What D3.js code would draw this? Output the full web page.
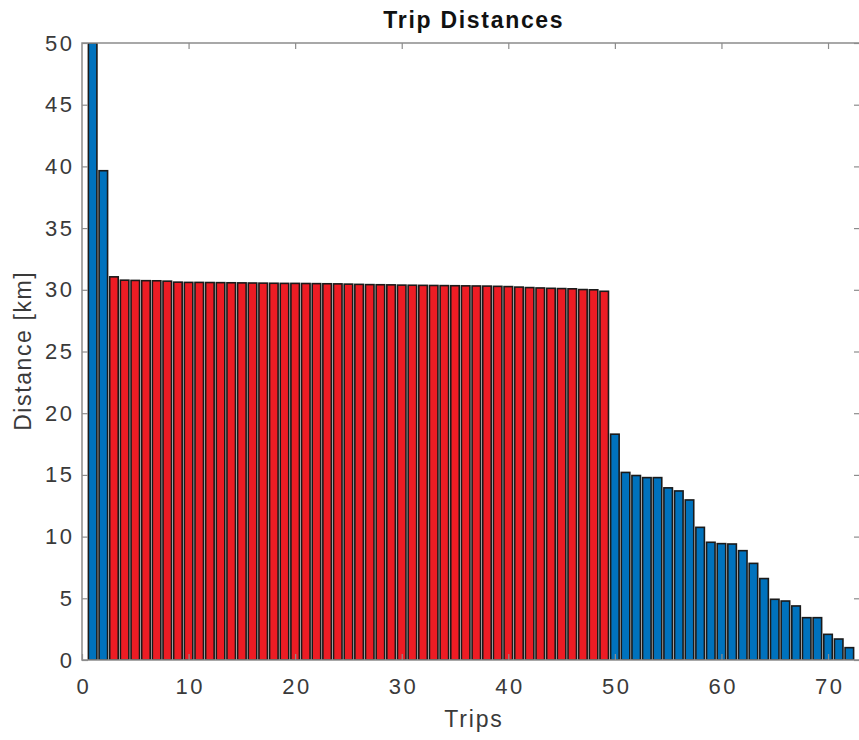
<!DOCTYPE html>
<html>
<head>
<meta charset="utf-8">
<script src="https://cdn.jsdelivr.net/npm/d3@7"></script>
<style>
  html, body { margin: 0; padding: 0; background: #fff; }
  svg { display: block; font-family: "Liberation Sans", Arial, Helvetica, sans-serif; }
</style>
</head>
<body>
<svg id="chart" width="859" height="740"></svg>
<script>
// ---- Data ----
const trips = d3.range(1, 73); // trip index 1..72
const distances = [
  50.0, 39.65,
  31.05, 30.78, 30.76, 30.74, 30.73, 30.70, 30.62, 30.60, 30.60, 30.59,
  30.58, 30.57, 30.56, 30.55, 30.54, 30.53, 30.52, 30.52, 30.51, 30.50,
  30.49, 30.48, 30.46, 30.44, 30.42, 30.41, 30.40, 30.38, 30.37, 30.36,
  30.35, 30.34, 30.33, 30.32, 30.31, 30.30, 30.28, 30.26, 30.22, 30.18,
  30.15, 30.12, 30.10, 30.08, 30.02, 30.00, 29.88,
  18.3, 15.2, 14.95, 14.78, 14.78, 13.95, 13.7, 12.97, 10.75, 9.54,
  9.43, 9.40, 8.86, 7.83, 6.6, 4.92, 4.78, 4.38, 3.43, 3.43,
  2.08, 1.70, 1.0
];
const highlighted = d3.range(3, 50); // trips 3..49 shown in red
const xTicks = [0, 10, 20, 30, 40, 50, 60, 70];
const yTicks = [0, 5, 10, 15, 20, 25, 30, 35, 40, 45, 50];
const xDomain = [0, 73];
const yDomain = [0, 50];

(function () {
// ---- Layout ----
const svg = d3.select("#chart");
const pL = 82, pR = 860, pT = 43, pB = 660;
const x = d3.scaleLinear().domain(xDomain).range([pL, pR]);
const y = d3.scaleLinear().domain(yDomain).range([pB, pT]);
const barW = 0.8;
const blue = "#0072BD", red = "#ED1C24";
const axisColor = "#8c8c8c", textColor = "#3a3a3a";

svg.append("defs").append("clipPath").attr("id", "clip")
  .append("rect").attr("x", pL).attr("y", pT)
  .attr("width", pR - pL).attr("height", pB - pT);

const data = trips.map((t, i) => ({ t, v: distances[i], hi: highlighted.includes(t) }));

svg.append("g").attr("clip-path", "url(#clip)")
  .selectAll("rect").data(data).join("rect")
  .attr("x", d => x(d.t - barW / 2))
  .attr("width", d => x(d.t + barW / 2) - x(d.t - barW / 2))
  .attr("y", d => y(d.v))
  .attr("height", d => y(0) - y(d.v))
  .attr("fill", d => d.hi ? red : blue)
  .attr("stroke", "#1a1a1a")
  .attr("stroke-width", 1.6);

// ---- Axes (MATLAB-style box with inward ticks) ----
const tickLen = 6;
svg.append("rect").attr("x", pL).attr("y", pT)
  .attr("width", pR - pL).attr("height", pB - pT)
  .attr("fill", "none").attr("stroke", axisColor).attr("stroke-width", 1.5);

const tickLs = 2.5;
const xAxisB = d3.axisBottom(x).tickValues(xTicks).tickSizeInner(-tickLen).tickSizeOuter(0).tickPadding(18);
const gxb = svg.append("g").attr("transform", `translate(0,${pB})`).call(xAxisB);
const xAxisT = d3.axisTop(x).tickValues(xTicks.filter(v => v > 0)).tickSizeInner(-tickLen).tickSizeOuter(0).tickFormat("");
const gxt = svg.append("g").attr("transform", `translate(0,${pT})`).call(xAxisT);
const yAxisL = d3.axisLeft(y).tickValues(yTicks).tickSizeInner(-tickLen).tickSizeOuter(0).tickPadding(10);
const gyl = svg.append("g").attr("transform", `translate(${pL},0)`).call(yAxisL);
const yAxisR = d3.axisRight(y).tickValues(yTicks).tickSizeInner(-tickLen).tickSizeOuter(0).tickFormat("");
const gyr = svg.append("g").attr("transform", `translate(${pR},0)`).call(yAxisR);

[gxb, gxt, gyl, gyr].forEach(g => {
  g.select(".domain").remove();
  g.selectAll(".tick line").attr("stroke", axisColor).attr("stroke-width", 1.2);
  g.selectAll(".tick text").attr("fill", textColor).style("font-size", "22px")
    .style("letter-spacing", tickLs + "px")
    .style("font-family", "'Liberation Sans', Arial, sans-serif");
});
gxb.selectAll(".tick text").attr("dx", tickLs / 2);
gyl.selectAll(".tick text").attr("dx", tickLs);

// ---- Labels ----
svg.append("text").attr("x", 473 + 0.85).attr("y", 28)
  .attr("text-anchor", "middle").attr("fill", "#111")
  .style("font-size", "23px").style("font-weight", "bold")
  .style("letter-spacing", "1.7px")
  .text("Trip Distances");

svg.append("text").attr("x", 473 + 0.9).attr("y", 727)
  .attr("text-anchor", "middle").attr("fill", textColor)
  .style("font-size", "23px").style("letter-spacing", "1.8px")
  .text("Trips");

svg.append("text")
  .attr("transform", `translate(31,${350 + 0.8}) rotate(-90)`)
  .attr("text-anchor", "middle").attr("fill", textColor)
  .style("font-size", "23px").style("letter-spacing", "1.6px")
  .text("Distance [km]");
})();
</script>
</body>
</html>
